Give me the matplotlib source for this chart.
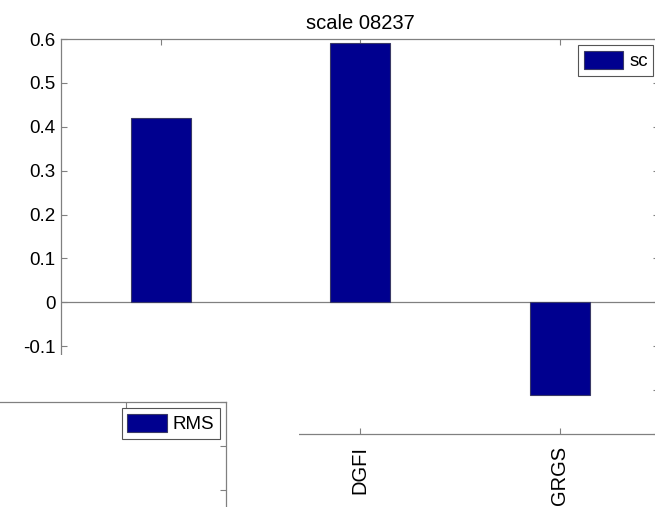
import matplotlib
matplotlib.use("Agg")
import matplotlib.pyplot as plt
import matplotlib.patches as mpatches
import numpy as np

# ---- data ----
categories = ['', 'DGFI', 'GRGS']
sc_values = [0.42, 0.59, -0.21]
ytick_values = [-0.3, -0.2, -0.1, 0, 0.1, 0.2, 0.3, 0.4, 0.5, 0.6]
ytick_labels = ['', '', '-0.1', '0', '0.1', '0.2', '0.3', '0.4', '0.5', '0.6']
title_text = 'scale 08237'
legend_main = 'sc'
legend_rms = 'RMS'

plt.rcParams['font.family'] = ['Liberation Sans', 'DejaVu Sans']

W, H = 655, 507
fig = plt.figure(figsize=(W / 100, H / 100), dpi=100)

BAR_C = '#00008f'
BAR_E = '#3a3a66'
SPINE_C = '#808080'
FS = 13.5

def px_axes(left, top, right, bottom):
    return [left / W, (H - bottom) / H, (right - left) / W, (bottom - top) / H]

def style(ax):
    for s in ax.spines.values():
        s.set_color(SPINE_C)
        s.set_linewidth(0.9)
    ax.tick_params(direction='in', length=4, width=0.8, color=SPINE_C,
                   labelcolor='black', labelsize=FS, top=True, right=True)

# ---- main axes ----
ax = fig.add_axes(px_axes(61, 39, 659.5, 434), zorder=0)
x = np.arange(1, len(categories) + 1)
ax.bar(x, sc_values, width=0.3, color=BAR_C, edgecolor=BAR_E, linewidth=0.8,
       label=legend_main, zorder=3)
ax.axhline(0, color=SPINE_C, linewidth=0.9, zorder=2)
ax.set_xlim(0.5, len(categories) + 0.5)
ax.set_ylim(-0.3, 0.6)
ax.set_xticks(x)
ax.set_xticklabels(categories, rotation=90)
ax.set_yticks(ytick_values)
ax.set_yticklabels(ytick_labels)
style(ax)
ax.tick_params(axis='y', pad=4)
ax.tick_params(axis='x', pad=8.5, labelsize=14.5)
ax.set_title(title_text, fontsize=14.5, pad=7)
leg = ax.legend(loc='upper right', fontsize=FS, fancybox=False, framealpha=1,
                edgecolor='#555555', borderpad=0.3, handlelength=2.1,
                handleheight=1.1, handletextpad=0.3, borderaxespad=0.33)
leg.get_frame().set_linewidth(0.8)

# ---- white panel of the overlapping figure ----
rect = mpatches.Rectangle((0, 0), 299 / W, (H - 355) / H, transform=fig.transFigure,
                          facecolor='white', edgecolor='none', zorder=1)
fig.add_artist(rect)

# ---- RMS axes (mostly outside the picture) ----
ax2 = fig.add_axes(px_axes(-372.75, 402, 225.75, 797), zorder=2)
ax2.set_xlim(0.5, len(categories) + 0.5)
ax2.set_ylim(0, 0.9)
ax2.set_xticks(x)
ax2.set_yticks(np.arange(0, 0.91, 0.1))
style(ax2)
ax2.tick_params(labelleft=False, labelbottom=False)
h = mpatches.Patch(facecolor=BAR_C, edgecolor=BAR_E, linewidth=0.8, label=legend_rms)
leg2 = ax2.legend(handles=[h], loc='upper right', fontsize=FS, fancybox=False,
                  framealpha=1, edgecolor='#555555', borderpad=0.3, handlelength=2.1,
                  handleheight=1.1, handletextpad=0.3, borderaxespad=0.33)
leg2.get_frame().set_linewidth(0.8)

fig.savefig('out.png', dpi=100)
